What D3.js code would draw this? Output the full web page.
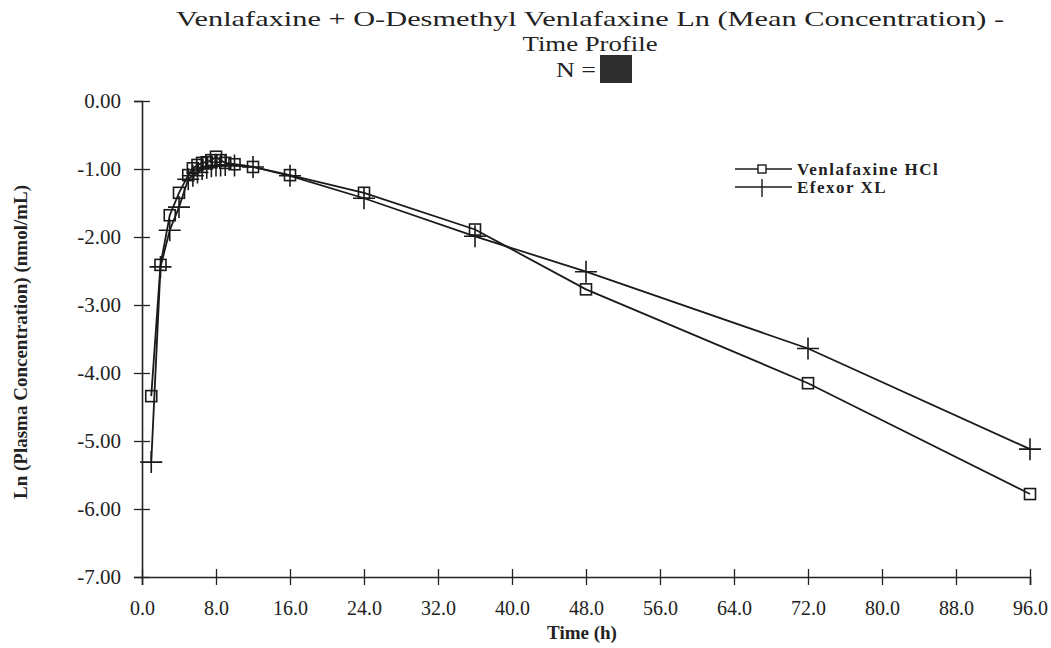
<!DOCTYPE html>
<html><head><meta charset="utf-8">
<script src="https://cdn.jsdelivr.net/npm/d3@7"></script>
<style>body{margin:0;background:#fff} svg text{font-family:"Liberation Serif","Times New Roman","DejaVu Serif",serif !important}</style>
</head><body>
<svg id="c" width="1051" height="648"></svg>
<script>
const times = [1,2,3,4,5,5.5,6,6.5,7,7.5,8,8.5,9,10,12,16,24,36,48,72,96];
const venlafaxineHCl = [-4.34,-2.41,-1.68,-1.35,-1.09,-0.99,-0.94,-0.91,-0.90,-0.87,-0.82,-0.87,-0.91,-0.93,-0.97,-1.09,-1.35,-1.89,-2.77,-4.15,-5.78];
const efexorXL = [-5.31,-2.44,-1.90,-1.56,-1.15,-1.10,-1.05,-1.00,-0.98,-0.96,-0.95,-0.95,-0.94,-0.95,-0.97,-1.10,-1.43,-1.99,-2.51,-3.64,-5.12];
const xTicks = [0,8,16,24,32,40,48,56,64,72,80,88,96];
const yTicks = [0,-1,-2,-3,-4,-5,-6,-7];

const svg = d3.select("#c");
const x = d3.scaleLinear().domain([0,96]).range([142,1030]);
const y = d3.scaleLinear().domain([-7,0]).range([577,101]);
const fmt = f => d => d3.format(f)(d).replace("\u2212","-");

// title
const t = svg.append("g").attr("font-size",22).attr("text-anchor","middle").attr("fill","#222");
t.append("text").attr("x",590).attr("y",26).attr("textLength",828).attr("lengthAdjust","spacingAndGlyphs")
  .text("Venlafaxine + O-Desmethyl Venlafaxine Ln (Mean Concentration) -");
t.append("text").attr("x",590).attr("y",51).attr("textLength",135).attr("lengthAdjust","spacingAndGlyphs").text("Time Profile");
t.append("text").attr("x",576).attr("y",77).attr("textLength",40).attr("lengthAdjust","spacingAndGlyphs").text("N =");
svg.append("rect").attr("x",600).attr("y",55).attr("width",32).attr("height",28).attr("fill","#2e2e2e");

// axes
const yAxis = d3.axisLeft(y).tickValues(yTicks).tickFormat(fmt(".2f")).tickSize(8).tickPadding(13);
const gy = svg.append("g").attr("transform","translate(142,0)").call(yAxis);
const xAxis = d3.axisBottom(x).tickValues(xTicks).tickFormat(fmt(".1f")).tickSize(8).tickPadding(16);
const gx = svg.append("g").attr("transform","translate(0,577)").call(xAxis);
[gy,gx].forEach(g=>{
  g.select(".domain").attr("stroke","#222").attr("stroke-width",1.6);
  g.selectAll(".tick line").attr("stroke","#222").attr("stroke-width",1.3);
  g.selectAll(".tick text").attr("fill","#222");
});
gy.selectAll(".tick text").attr("font-size",21);
gx.selectAll(".tick text").attr("font-size",20);
gy.selectAll(".tick line").attr("x1",8).attr("x2",-8);
gx.selectAll(".tick line").attr("y1",-8).attr("y2",8);

// axis labels
svg.append("text").attr("transform","translate(27,342) rotate(-90)").attr("text-anchor","middle")
  .attr("font-size",19).attr("font-weight","bold").attr("fill","#222")
  .text("Ln (Plasma Concentration) (nmol/mL)");
svg.append("text").attr("x",582).attr("y",639).attr("text-anchor","middle")
  .attr("font-size",19).attr("font-weight","bold").attr("fill","#222")
  .text("Time (h)");

// series
const line = d3.line().x(d=>x(d[0])).y(d=>y(d[1]));
const s1 = times.map((tt,i)=>[tt,venlafaxineHCl[i]]);
const s2 = times.map((tt,i)=>[tt,efexorXL[i]]);
svg.append("path").datum(s1).attr("d",line).attr("fill","none").attr("stroke","#1a1a1a").attr("stroke-width",1.8);
svg.append("path").datum(s2).attr("d",line).attr("fill","none").attr("stroke","#1a1a1a").attr("stroke-width",1.8);

svg.append("g").selectAll("rect").data(s1).join("rect")
  .attr("x",d=>x(d[0])-5.5).attr("y",d=>y(d[1])-5.5).attr("width",11).attr("height",11)
  .attr("fill","none").attr("stroke","#1a1a1a").attr("stroke-width",1.6);
const pg = svg.append("g").attr("stroke","#1a1a1a").attr("stroke-width",1.6);
pg.selectAll("path").data(s2).join("path")
  .attr("d",d=>{const cx=x(d[0]),cy=y(d[1]);return `M${cx-11},${cy}H${cx+11}M${cx},${cy-11}V${cy+11}`;});

// legend
const lg = svg.append("g");
lg.append("line").attr("x1",735).attr("x2",792).attr("y1",169).attr("y2",169).attr("stroke","#1a1a1a").attr("stroke-width",1.4);
lg.append("rect").attr("x",758).attr("y",165).attr("width",8).attr("height",8).attr("fill","#fff").attr("stroke","#1a1a1a").attr("stroke-width",1.4);
lg.append("line").attr("x1",735).attr("x2",792).attr("y1",187).attr("y2",187).attr("stroke","#1a1a1a").attr("stroke-width",1.4);
lg.append("path").attr("d","M762,179V197").attr("stroke","#1a1a1a").attr("stroke-width",1.4);
lg.append("text").attr("x",797).attr("y",175).attr("font-size",17).attr("letter-spacing",1.5).attr("font-weight","bold").attr("fill","#222").text("Venlafaxine HCl");
lg.append("text").attr("x",797).attr("y",193).attr("font-size",17).attr("letter-spacing",1.5).attr("font-weight","bold").attr("fill","#222").text("Efexor XL");
</script>
</body></html>
